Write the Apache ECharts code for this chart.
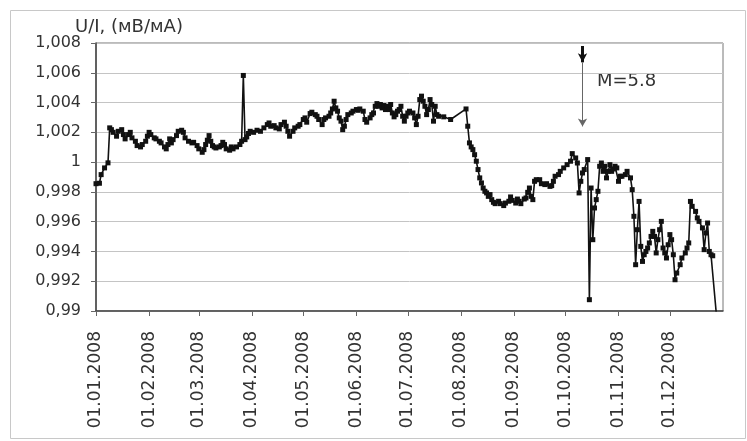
<!DOCTYPE html>
<html>
<head>
<meta charset="utf-8">
<script src="https://cdn.jsdelivr.net/npm/echarts@6/dist/echarts.min.js"></script>
<style>
  html, body { margin: 0; padding: 0; background: #fff; }
  #chart { width: 747px; height: 441px; }
</style>
</head>
<body>
<div id="chart"></div>
<script>
// [day of year 2008 (0 = 01.01), U/I]
var janMar = [
  [0, 0.99855], [2, 0.99858], [3, 0.99916], [5, 0.99961], [7, 0.99995], [8, 1.0023], [9, 1.00218],
  [10, 1.0020], [12, 1.00174], [13, 1.00207], [15, 1.00218], [16, 1.00185], [17, 1.00156], [19, 1.00185],
  [20, 1.0020], [21, 1.00163], [23, 1.0014], [24, 1.00111], [26, 1.00102], [27, 1.00118], [29, 1.0014],
  [30, 1.00174], [31, 1.0020], [32, 1.00185], [34, 1.00163], [35, 1.00156], [37, 1.0014], [38, 1.00129],
  [40, 1.00102], [41, 1.00089], [42, 1.00118], [43, 1.00156], [44, 1.00129], [45, 1.00151], [47, 1.00178],
  [48, 1.00207], [50, 1.00214], [51, 1.0020], [52, 1.00163], [54, 1.0014], [56, 1.00129], [57, 1.00133],
  [59, 1.00111], [60, 1.00089], [62, 1.00066], [63, 1.00084], [64, 1.00118], [65, 1.00147], [66, 1.00178],
  [67, 1.0014], [68, 1.00111], [69, 1.00102], [70, 1.00095], [72, 1.00102], [73, 1.00111], [74, 1.00133],
  [75, 1.00118], [76, 1.00089], [78, 1.0008], [79, 1.00102], [80, 1.00089], [82, 1.00102], [84, 1.00118],
  [85, 1.0014], [86, 1.00582], [87, 1.00151], [88, 1.00169], [89, 1.00192]
];
var aprJul = [
  [90, 1.00207], [92, 1.0020], [94, 1.00214], [96, 1.00207], [98, 1.0023], [100, 1.00252], [101, 1.00263],
  [102, 1.00241], [104, 1.00245], [105, 1.0023], [107, 1.00223], [108, 1.00252], [110, 1.00268], [111, 1.00241],
  [112, 1.00207], [113, 1.00174], [115, 1.00207], [116, 1.0023], [118, 1.00241], [119, 1.00252], [121, 1.00286],
  [122, 1.00297], [123, 1.00268], [125, 1.00326], [126, 1.00335], [128, 1.00319], [129, 1.00308], [130, 1.00286],
  [132, 1.00252], [133, 1.00286], [134, 1.00297], [136, 1.00308], [137, 1.0033], [138, 1.00357], [139, 1.00409],
  [140, 1.00364], [141, 1.00342], [142, 1.00297], [143, 1.00275], [144, 1.00218], [145, 1.00241], [146, 1.00286],
  [147, 1.00319], [149, 1.0033], [150, 1.00342], [152, 1.00353], [153, 1.00348], [154, 1.00357], [156, 1.00342],
  [157, 1.00286], [158, 1.00268], [160, 1.00297], [161, 1.00319], [162, 1.0033], [163, 1.00375], [164, 1.00393],
  [165, 1.00375], [166, 1.00387], [167, 1.00364], [168, 1.0038], [169, 1.00353], [170, 1.00375], [171, 1.00353],
  [172, 1.00387], [173, 1.0033], [174, 1.00304], [175, 1.00319], [176, 1.00342], [177, 1.00353], [178, 1.00375],
  [179, 1.00308], [180, 1.00275], [181, 1.00308], [182, 1.0033], [183, 1.00342], [185, 1.0033], [186, 1.00297],
  [187, 1.00252], [188, 1.00308], [189, 1.0042], [190, 1.00443], [191, 1.00409], [192, 1.00375], [193, 1.00319],
  [194, 1.00353], [195, 1.0042], [196, 1.00387], [197, 1.00275], [198, 1.00375], [199, 1.00319], [200, 1.00308],
  [203, 1.00304], [207, 1.00286], [216, 1.00357]
];
var augOct = [
  [217, 1.00241], [218, 1.00129], [219, 1.00102], [220, 1.00084], [221, 1.0005], [222, 1.00006], [223, 0.9995],
  [224, 0.99894], [225, 0.9986], [226, 0.99826], [227, 0.99804], [228, 0.99793], [229, 0.9977], [230, 0.99782],
  [231, 0.99748], [232, 0.9973], [233, 0.99721], [235, 0.99737], [236, 0.99721], [238, 0.99708], [239, 0.99725],
  [241, 0.99737], [242, 0.99766], [243, 0.99743], [245, 0.99725], [246, 0.99752], [247, 0.99737], [248, 0.99721],
  [250, 0.99752], [251, 0.99759], [252, 0.99797], [253, 0.99826], [254, 0.9977], [255, 0.99748], [256, 0.99871],
  [257, 0.99882], [259, 0.99882], [260, 0.99855], [262, 0.99849], [263, 0.99855], [265, 0.99837], [266, 0.99842],
  [267, 0.99871], [268, 0.99905], [270, 0.99916], [271, 0.99938], [273, 0.99961], [275, 0.99983], [277, 1.00006],
  [278, 1.00057], [280, 1.00028], [281, 0.99994], [282, 0.99793], [283, 0.99871], [284, 0.99927], [285, 0.9995],
  [287, 1.00017], [288, 0.99076], [289, 0.99826], [290, 0.99479], [291, 0.99692], [292, 0.99748], [293, 0.99804],
  [294, 0.99972], [295, 0.99994], [296, 0.99938], [297, 0.99972], [298, 0.99894], [299, 0.99938], [300, 0.99983],
  [301, 0.99938], [302, 0.99954], [303, 0.99972], [304, 0.99961]
];
var novDec = [
  [305, 0.99871], [306, 0.99905], [307, 0.99905], [309, 0.99916], [310, 0.99938], [312, 0.99894], [313, 0.99815],
  [314, 0.99636], [315, 0.99311], [316, 0.99546], [317, 0.99736], [318, 0.99434], [319, 0.99333], [320, 0.99378],
  [321, 0.994], [322, 0.99423], [323, 0.99457], [324, 0.99501], [325, 0.99535], [326, 0.99501], [327, 0.9939],
  [328, 0.99479], [329, 0.99546], [330, 0.99602], [331, 0.99423], [332, 0.9939], [333, 0.99356], [334, 0.99445],
  [335, 0.99513], [336, 0.99479], [337, 0.99378], [338, 0.9921], [339, 0.99255], [341, 0.99311], [342, 0.99356],
  [344, 0.9939], [345, 0.99423], [346, 0.99457], [347, 0.99736], [348, 0.99703], [350, 0.99669], [351, 0.99625],
  [352, 0.99602], [354, 0.99558], [355, 0.99412], [356, 0.99524], [357, 0.99591], [358, 0.994], [359, 0.99378],
  [360, 0.99371], [362, 0.98995]
];

var yMin = 0.99, yMax = 1.008, yStep = 0.002;
var axisTitle = 'U/I, (мВ/мА)';
var noteText = 'M=5.8';
var noteDay = 284;
var noteLevels = [1.0078, 1.0067, 1.0024]; // top of thick head, its tip, lower tip

function dayToTime(d) {
  return new Date(2008, 0, 1 + d).getTime();
}
function pad(n) {
  return (n < 10 ? '0' : '') + n;
}

var points = janMar.concat(aprJul, augOct, novDec).map(function (p) {
  return [dayToTime(p[0]), p[1]];
});
var noteTime = dayToTime(noteDay);

var myChart = echarts.init(document.getElementById('chart'), null, { renderer: 'canvas' });
myChart.setOption({
  animation: false,
  title: {
    text: axisTitle,
    left: 70,
    top: 13,
    textStyle: { fontFamily: 'DejaVu Sans', fontSize: 18, fontWeight: 'normal', color: '#333' }
  },
  grid: {
    left: 96, right: 24, top: 43, bottom: 130,
    show: true, borderColor: '#777', borderWidth: 1,
    outerBoundsMode: 'none'
  },
  xAxis: {
    type: 'time',
    min: dayToTime(0),
    max: dayToTime(366),
    splitNumber: 12,
    minInterval: 28 * 86400000,
    maxInterval: 31 * 86400000,
    axisLine: { lineStyle: { color: '#444', width: 1.5 } },
    axisTick: { show: true, length: 5, lineStyle: { color: '#666' } },
    splitLine: { show: false },
    axisLabel: {
      rotate: 90,
      margin: 20,
      showMaxLabel: false,
      hideOverlap: false,
      fontFamily: 'DejaVu Sans',
      fontSize: 17,
      color: '#333',
      formatter: function (val) {
        var d = new Date(val);
        return pad(d.getDate()) + '.' + pad(d.getMonth() + 1) + '.' + d.getFullYear();
      }
    }
  },
  yAxis: {
    type: 'value',
    min: yMin,
    max: yMax,
    interval: yStep,
    axisLine: { show: true, lineStyle: { color: '#444', width: 1.5 } },
    axisTick: { show: true, length: 5, lineStyle: { color: '#666' } },
    splitLine: { lineStyle: { color: '#c4c4c4', width: 1 } },
    axisLabel: {
      margin: 15,
      fontFamily: 'DejaVu Sans',
      fontSize: 16,
      color: '#333',
      formatter: function (v) {
        return String(+v.toFixed(3)).replace('.', ',');
      }
    }
  },
  series: [{
    type: 'line',
    data: points,
    symbol: 'rect',
    symbolSize: 5,
    showAllSymbol: true,
    lineStyle: { color: '#111', width: 1.6 },
    itemStyle: { color: '#111' },
    markLine: {
      silent: true,
      animation: false,
      label: { show: false },
      data: [
        [
          { coord: [noteTime, noteLevels[0]], symbol: 'none', lineStyle: { color: '#111', width: 3, type: 'solid' } },
          { coord: [noteTime, noteLevels[1]], symbol: 'arrow', symbolSize: [7, 9] }
        ],
        [
          { coord: [noteTime, noteLevels[1]], symbol: 'none', lineStyle: { color: '#666', width: 1, type: 'solid' } },
          { coord: [noteTime, noteLevels[2]], symbol: 'arrow', symbolSize: [7, 8] }
        ]
      ]
    }
  }],
  graphic: [
    {
      type: 'rect',
      shape: { x: 10.5, y: 10.5, width: 735, height: 428 },
      style: { fill: 'none', stroke: '#c8c8c8', lineWidth: 1 },
      silent: true
    },
    {
      type: 'text',
      left: 597,
      top: 72,
      style: { text: noteText, font: '18px "DejaVu Sans"', fill: '#333' },
      silent: true
    }
  ]
});
</script>
</body>
</html>
